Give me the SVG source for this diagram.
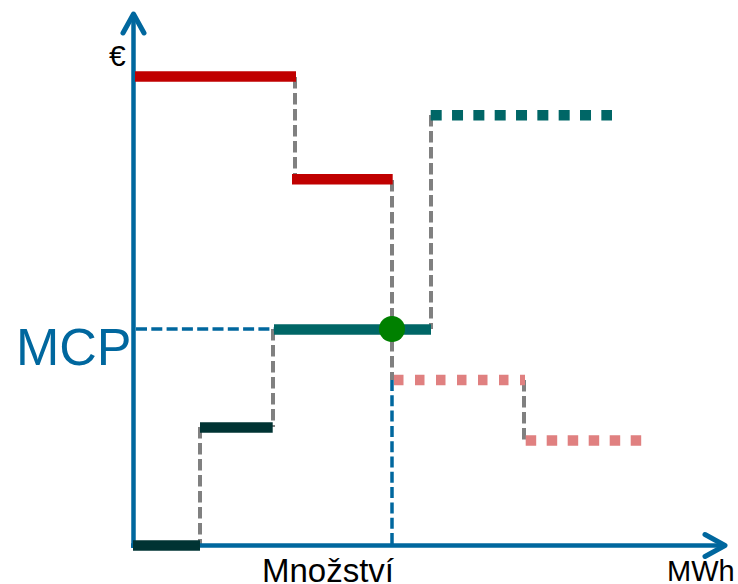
<svg xmlns="http://www.w3.org/2000/svg" width="738" height="584" viewBox="0 0 738 584">
<style>
.axis{stroke:#00679E;stroke-width:4.5;fill:none;stroke-linecap:butt}
.head{stroke:#00679E;stroke-width:5;fill:none;stroke-linecap:round;stroke-linejoin:round}
.gray{stroke:#808080;stroke-width:4;stroke-dasharray:11.5 4.5;fill:none}
.bdash{stroke:#00679E;stroke-width:3.5;stroke-dasharray:11 4.3;fill:none}
.step{stroke-width:10.5;fill:none}
.dot{stroke-width:10.5;fill:none}
.lbl{font-family:"Liberation Sans",Arial,sans-serif;fill:#000}
</style>
<rect width="738" height="584" fill="#fff"/>
<g id="guides">
<line class="gray" x1="295" y1="77" x2="295" y2="178"/>
<line class="gray" x1="392" y1="180" x2="392" y2="380"/>
<line class="gray" x1="431" y1="115" x2="431" y2="329"/>
<line class="gray" x1="273" y1="329" x2="273" y2="427"/>
<line class="gray" x1="200" y1="427" x2="200" y2="545"/>
<line class="gray" x1="524" y1="380" x2="524" y2="440"/>
<line class="bdash" x1="392" y1="380" x2="392" y2="545"/>
<line class="bdash" x1="136" y1="329" x2="274" y2="329"/>
</g>
<g id="axes">
<line class="axis" x1="133.5" y1="548" x2="133.5" y2="14"/>
<polyline class="head" points="123,33 133.5,14 144,33"/>
<line class="axis" x1="131" y1="545.5" x2="725" y2="545.5"/>
<polyline class="head" points="705,534.5 725,545.5 705,556.5"/>
</g>
<g id="demand">
<line class="step" stroke="#C00000" x1="135" y1="76.5" x2="296" y2="76.5"/>
<line class="step" stroke="#C00000" x1="292" y1="179.3" x2="392.7" y2="179.3"/>
<line class="dot" stroke="#E08080" stroke-dasharray="9.5 11.5" x1="394" y1="380" x2="525" y2="380"/>
<line class="dot" stroke="#E08080" stroke-dasharray="10.5 10.5" x1="525.7" y1="440.5" x2="643" y2="440.5"/>
</g>
<g id="supply">
<line class="step" stroke="#003333" x1="133" y1="545.5" x2="200" y2="545.5"/>
<line class="step" stroke="#003333" x1="200" y1="427.5" x2="272.7" y2="427.5"/>
<line class="step" stroke="#006666" stroke-width="11" x1="274" y1="329.5" x2="431" y2="329.5"/>
<line class="dot" stroke="#006666" stroke-dasharray="11 10.33" x1="430.7" y1="115.3" x2="612" y2="115.3"/>
</g>
<g id="equilibrium">
<circle cx="392" cy="329" r="13" fill="#008000"/>
</g>
<g id="labels">
<text class="lbl" x="109" y="66" font-size="30">€</text>
<text class="lbl" x="16" y="365" font-size="52" style="fill:#00679E">MCP</text>
<text class="lbl" x="262" y="582" font-size="33">Množství</text>
<text class="lbl" x="667" y="581" font-size="29">MWh</text>
</g>
</svg>
